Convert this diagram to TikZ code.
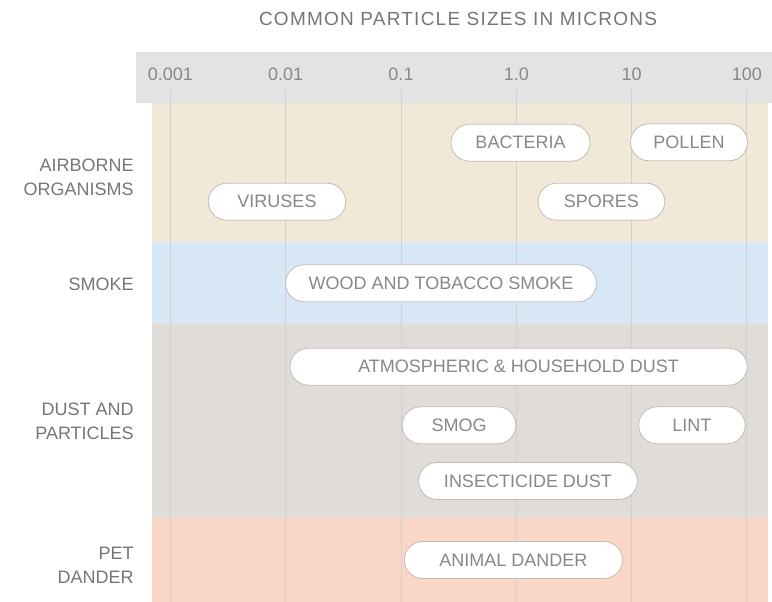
\documentclass[tikz,border=0pt]{standalone}
\usepackage{fontspec}
\setmainfont{Liberation Sans}
\newfontfamily\titlefam[LetterSpace=6.5]{Liberation Sans}
\newcommand\labfont{\fontsize{13.5pt}{17.5pt}\selectfont}
\newcommand\ttlfont{\fontsize{14.25pt}{17.5pt}\selectfont}
\definecolor{hdrgray}{HTML}{E3E3E3}
\definecolor{beige}{HTML}{F1E9D8}
\definecolor{skyband}{HTML}{D8E7F5}
\definecolor{dustband}{HTML}{E0DCD8}
\definecolor{salmon}{HTML}{FAD6C6}
\definecolor{labtext}{HTML}{767676}
\definecolor{pilltext}{HTML}{888888}
\definecolor{pillline}{HTML}{C4BCB4}
\definecolor{gridc}{HTML}{D2CFCC}
\tikzset{
  pill/.style={draw=pillline, line width=0.6pt, fill=white, rounded corners=13.875pt,
    minimum height=27.75pt, minimum width={#1*0.75pt}, inner sep=0pt,
    text=pilltext, font=\labfont},
  rowlabel/.style={anchor=east, align=right, inner sep=0pt, text=labtext, font=\labfont},
  tick/.style={inner sep=0pt, text=pilltext, font=\labfont},
  gridline/.style={draw=gridc, line width=0.75pt}
}
\begin{document}
\begin{tikzpicture}[x=0.75pt,y=-0.75pt]
\useasboundingbox (0,0) rectangle (772,602);
% title
\node[inner sep=0pt, text=labtext] (title) at (458,19) {\titlefam\ttlfont COMMON PARTICLE SIZES IN MICRONS};
% header band
\fill[hdrgray] (136,52.3) rectangle (772,102.7);
% category bands
\fill[beige] (152,102.7) rectangle (768,242);
\fill[skyband] (152,242) rectangle (768,323);
\fill[dustband] (152,323) rectangle (768,517.7);
\fill[salmon] (152,517.7) rectangle (768,602);
% grid lines
\foreach \gx in {170.4,285.7,401,516.3,631.6,746.9}
  \draw[gridline] (\gx,89.3) -- (\gx,602);
% tick labels
\node[tick] (t1) at (170.4,74) {0.001};
\node[tick] (t2) at (285.7,74) {0.01};
\node[tick] (t3) at (401,74) {0.1};
\node[tick] (t4) at (516.3,74) {1.0};
\node[tick] (t5) at (631.6,74) {10};
\node[tick] (t6) at (746.9,74) {100};
% row labels
\node[rowlabel] (lairborne) at (134,177.4) {AIRBORNE\\ORGANISMS};
\node[rowlabel] (lsmoke) at (134,284.2) {SMOKE};
\node[rowlabel] (ldust) at (134,421.3) {DUST AND\\PARTICLES};
\node[rowlabel] (lpet) at (134,565.3) {PET\\DANDER};
% pills
\node[pill=139] (bacteria) at (520.5,142.7) {BACTERIA};
\node[pill=117] (pollen) at (689,142.3) {POLLEN};
\node[pill=137.5] (viruses) at (277,201.7) {VIRUSES};
\node[pill=126.7] (spores) at (601.4,201.7) {SPORES};
\node[pill=310.8] (smoke) at (441,283.3) {WOOD AND TOBACCO SMOKE};
\node[pill=457.2] (atmos) at (518.6,366.7) {ATMOSPHERIC \& HOUSEHOLD DUST};
\node[pill=113.8] (smog) at (459,425.3) {SMOG};
\node[pill=106.5] (lint) at (691.9,425.3) {LINT};
\node[pill=218.7] (insect) at (528,481) {INSECTICIDE DUST};
\node[pill=218.3] (dander) at (513.4,560) {ANIMAL DANDER};
\end{tikzpicture}
\end{document}
